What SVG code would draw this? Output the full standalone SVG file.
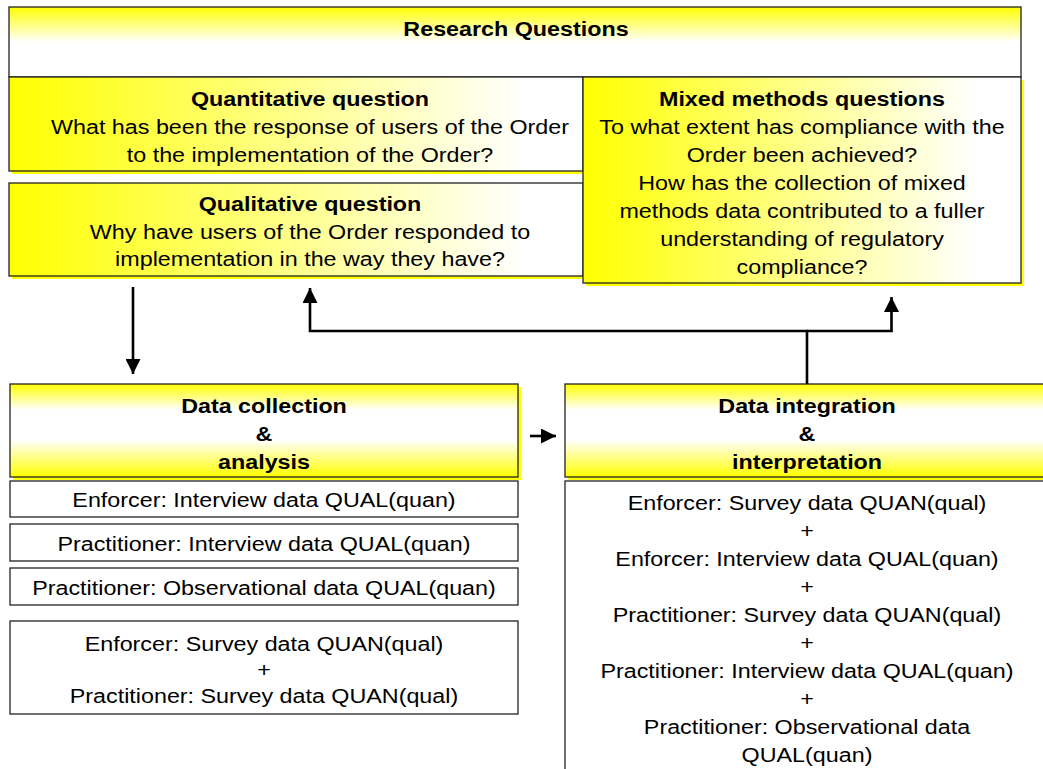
<svg xmlns="http://www.w3.org/2000/svg" width="1043" height="769" viewBox="0 0 1043 769">
  <defs>
    <linearGradient id="gTop" x1="0" y1="0" x2="0" y2="1">
      <stop offset="0" stop-color="#ffff00"/>
      <stop offset="0.5" stop-color="#ffffff"/>
      <stop offset="1" stop-color="#ffffff"/>
    </linearGradient>
    <linearGradient id="gSide" x1="0" y1="0" x2="1" y2="0">
      <stop offset="0" stop-color="#ffff00"/>
      <stop offset="0.9" stop-color="#ffffff"/>
      <stop offset="1" stop-color="#ffffff"/>
    </linearGradient>
    <linearGradient id="gBand" x1="0" y1="0" x2="0" y2="1">
      <stop offset="0" stop-color="#ffff00"/>
      <stop offset="0.28" stop-color="#ffffff"/>
      <stop offset="0.6" stop-color="#ffffff"/>
      <stop offset="1" stop-color="#ffff00"/>
    </linearGradient>
    <marker id="head" markerUnits="userSpaceOnUse" markerWidth="15" markerHeight="15" viewBox="0 0 16 16" refX="16" refY="8" orient="auto">
      <path d="M0,0 L16,8 L0,16 z" fill="#000"/>
    </marker>
  </defs>
  <style>
    .box { stroke: #222; stroke-width: 1.3; }
    .plain { fill: #fff; stroke: #222; stroke-width: 1.3; }
    .shadow { fill: #ffff00; }
    text { font-family: "Liberation Sans", Arial, sans-serif; font-size: 21px; fill: #000; text-anchor: middle; }
    .b { font-weight: bold; }
    .wire { fill: none; stroke: #000; stroke-width: 2.6; }
  </style>

  <!-- Research questions header -->
  <g id="n-research">
    <rect class="box" x="9" y="7" width="1012" height="70" fill="url(#gTop)"/>
    <g transform="translate(516 0) scale(1.11 1)">
      <text class="b" x="0" y="36">Research Questions</text>
    </g>
  </g>

  <!-- Quantitative question -->
  <g id="n-quant">
    <rect class="shadow" x="12" y="80" width="574" height="94"/>
    <rect class="box" x="9" y="77" width="574" height="94" fill="url(#gSide)"/>
    <g transform="translate(310 0) scale(1.11 1)">
      <text class="b" x="0" y="106">Quantitative question</text>
      <text x="0" y="134">What has been the response of users of the Order</text>
      <text x="0" y="162">to the implementation of the Order?</text>
    </g>
  </g>

  <!-- Qualitative question -->
  <g id="n-qual">
    <rect class="shadow" x="12" y="186" width="574" height="93"/>
    <rect class="box" x="9" y="183" width="574" height="93" fill="url(#gSide)"/>
    <g transform="translate(310 0) scale(1.11 1)">
      <text class="b" x="0" y="211">Qualitative question</text>
      <text x="0" y="239">Why have users of the Order responded to</text>
      <text x="0" y="266">implementation in the way they have?</text>
    </g>
  </g>

  <!-- Mixed methods questions -->
  <g id="n-mixed">
    <rect class="shadow" x="586" y="80" width="438" height="206"/>
    <rect class="box" x="583" y="77" width="438" height="206" fill="url(#gSide)"/>
    <g transform="translate(802 0) scale(1.11 1)">
      <text class="b" x="0" y="106">Mixed methods questions</text>
      <text x="0" y="134">To what extent has compliance with the</text>
      <text x="0" y="162">Order been achieved?</text>
      <text x="0" y="190">How has the collection of mixed</text>
      <text x="0" y="218">methods data contributed to a fuller</text>
      <text x="0" y="246">understanding of regulatory</text>
      <text x="0" y="274">compliance?</text>
    </g>
  </g>

  <!-- Data collection & analysis -->
  <g id="n-collect">
    <rect class="shadow" x="13" y="387" width="508" height="93"/>
    <rect class="box" x="10" y="384" width="508" height="93" fill="url(#gBand)"/>
    <g transform="translate(264 0) scale(1.11 1)">
      <text class="b" x="0" y="413">Data collection</text>
      <text class="b" x="0" y="441">&amp;</text>
      <text class="b" x="0" y="469">analysis</text>
    </g>
  </g>

  <!-- Data integration & interpretation -->
  <g id="n-integrate">
    <rect class="shadow" x="568" y="387" width="490" height="93"/>
    <rect class="box" x="565" y="384" width="490" height="93" fill="url(#gBand)"/>
    <g transform="translate(807 0) scale(1.11 1)">
      <text class="b" x="0" y="413">Data integration</text>
      <text class="b" x="0" y="441">&amp;</text>
      <text class="b" x="0" y="469">interpretation</text>
    </g>
  </g>

  <!-- Collected data sets -->
  <g id="n-enf-interview">
    <rect class="plain" x="10" y="481" width="508" height="36"/>
    <g transform="translate(264 0) scale(1.11 1)">
      <text x="0" y="507">Enforcer: Interview data QUAL(quan)</text>
    </g>
  </g>
  <g id="n-prac-interview">
    <rect class="plain" x="10" y="524" width="508" height="37"/>
    <g transform="translate(264 0) scale(1.11 1)">
      <text x="0" y="551">Practitioner: Interview data QUAL(quan)</text>
    </g>
  </g>
  <g id="n-prac-observation">
    <rect class="plain" x="10" y="568" width="508" height="37"/>
    <g transform="translate(264 0) scale(1.11 1)">
      <text x="0" y="595">Practitioner: Observational data QUAL(quan)</text>
    </g>
  </g>
  <g id="n-surveys">
    <rect class="plain" x="10" y="621" width="508" height="93"/>
    <g transform="translate(264 0) scale(1.11 1)">
      <text x="0" y="651">Enforcer: Survey data QUAN(qual)</text>
      <text x="0" y="677">+</text>
      <text x="0" y="703">Practitioner: Survey data QUAN(qual)</text>
    </g>
  </g>

  <!-- Integrated data sets -->
  <g id="n-integrated-data">
    <rect class="plain" x="565" y="481" width="490" height="300"/>
    <g transform="translate(807 0) scale(1.11 1)">
      <text x="0" y="510">Enforcer: Survey data QUAN(qual)</text>
      <text x="0" y="538">+</text>
      <text x="0" y="566">Enforcer: Interview data QUAL(quan)</text>
      <text x="0" y="594">+</text>
      <text x="0" y="622">Practitioner: Survey data QUAN(qual)</text>
      <text x="0" y="650">+</text>
      <text x="0" y="678">Practitioner: Interview data QUAL(quan)</text>
      <text x="0" y="706">+</text>
      <text x="0" y="734">Practitioner: Observational data</text>
      <text x="0" y="762">QUAL(quan)</text>
    </g>
  </g>

  <!-- Connectors -->
  <g id="connectors">
    <path class="wire" d="M133 287 V374" marker-end="url(#head)"/>
    <path class="wire" d="M807 384 V331 H310 V288" marker-end="url(#head)"/>
    <path class="wire" d="M807 331 H891.5 V297" marker-end="url(#head)"/>
    <path class="wire" d="M530 436 H556" marker-end="url(#head)"/>
  </g>
</svg>
